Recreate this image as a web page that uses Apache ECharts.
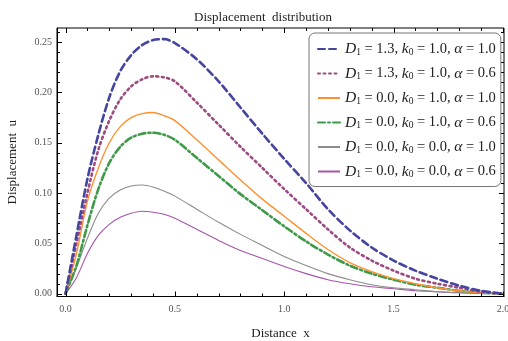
<!DOCTYPE html>
<html>
<head>
<meta charset="utf-8">
<script src="https://cdn.jsdelivr.net/npm/echarts@6/dist/echarts.min.js"></script>
<style>
html, body { margin: 0; padding: 0; background: #fff; }
#chart { width: 508px; height: 341px; }
</style>
</head>
<body>
<div id="chart"></div>
<script>
// data
var xs = [0, 0.05, 0.1, 0.15, 0.2, 0.25, 0.3, 0.35, 0.4, 0.45, 0.5, 0.6, 0.7, 0.8, 0.9, 1.0, 1.1, 1.2, 1.3, 1.4, 1.5, 1.6, 1.7, 1.8, 1.9, 2.0];
var u_D13_k10_a10 = [0, 0.058, 0.114, 0.158, 0.195, 0.221, 0.237, 0.247, 0.252, 0.253, 0.249, 0.233, 0.211, 0.185, 0.159, 0.134, 0.110, 0.084, 0.063, 0.046, 0.033, 0.023, 0.015, 0.008, 0.003, 0];
var u_D13_k10_a06 = [0, 0.050, 0.100, 0.143, 0.172, 0.193, 0.206, 0.213, 0.216, 0.215, 0.211, 0.190, 0.168, 0.146, 0.125, 0.104, 0.084, 0.064, 0.046, 0.033, 0.023, 0.015, 0.010, 0.006, 0.002, 0];
var u_D00_k10_a10 = [0, 0.040, 0.092, 0.125, 0.150, 0.166, 0.175, 0.179, 0.180, 0.177, 0.172, 0.153, 0.133, 0.113, 0.094, 0.077, 0.060, 0.044, 0.031, 0.022, 0.015, 0.010, 0.006, 0.003, 0.001, 0];
var u_D00_k10_a06 = [0, 0.028, 0.068, 0.104, 0.130, 0.146, 0.155, 0.159, 0.160, 0.158, 0.153, 0.135, 0.117, 0.099, 0.083, 0.067, 0.052, 0.039, 0.028, 0.020, 0.014, 0.009, 0.006, 0.003, 0.001, 0];
var u_D00_k00_a10 = [0, 0.026, 0.055, 0.080, 0.095, 0.103, 0.107, 0.108, 0.106, 0.102, 0.097, 0.084, 0.071, 0.059, 0.048, 0.037, 0.028, 0.020, 0.014, 0.009, 0.006, 0.004, 0.002, 0.001, 0.0005, 0];
var u_D00_k00_a06 = [0, 0.016, 0.040, 0.058, 0.069, 0.076, 0.080, 0.082, 0.081, 0.079, 0.075, 0.064, 0.053, 0.043, 0.035, 0.027, 0.020, 0.014, 0.010, 0.007, 0.005, 0.003, 0.002, 0.001, 0.0005, 0];

var D1 = ['1.3', '1.3', '0.0', '0.0', '0.0', '0.0'];
var k0 = ['1.0', '1.0', '1.0', '1.0', '0.0', '0.0'];
var alpha = ['1.0', '0.6', '1.0', '0.6', '1.0', '0.6'];

var xMajor = [0, 0.5, 1.0, 1.5, 2.0];
var xMinor = [0.1, 0.2, 0.3, 0.4, 0.6, 0.7, 0.8, 0.9, 1.1, 1.2, 1.3, 1.4, 1.6, 1.7, 1.8, 1.9];
var yMajor = [0, 0.05, 0.10, 0.15, 0.20, 0.25];
var yMinor = [0.01, 0.02, 0.03, 0.04, 0.06, 0.07, 0.08, 0.09, 0.11, 0.12, 0.13, 0.14, 0.16, 0.17, 0.18, 0.19, 0.21, 0.22, 0.23, 0.24, 0.26];

var curves = [u_D13_k10_a10, u_D13_k10_a06, u_D00_k10_a10, u_D00_k10_a06, u_D00_k00_a10, u_D00_k00_a06];
var colors = ['#45459f', '#9c4a80', '#ff9030', '#3e9a48', '#8c8c8c', '#a555aa'];
var lineTypes = [[7, 4], [2, 3.5], 'solid', [7, 3, 2, 3], 'solid', 'solid'];
var widths = [2.6, 2.6, 1.4, 2.6, 1.1, 1.1];

var xMin = -0.039, xMax = 2.005, yMin = -0.0027, yMax = 0.264;
var serif = 'Liberation Serif';
var majorLen = 5, minorLen = 3;

function pairs(ys) {
    var out = [];
    for (var i = 0; i < xs.length; i++) out.push([xs[i], ys[i]]);
    return out;
}
function names(i) {
    return 'D1 = ' + D1[i] + ', k0 = ' + k0[i] + ', α = ' + alpha[i];
}
function richName(i) {
    return '{it|D}{sub|1}{t| = ' + D1[i] + ', }{it|k}{sub|0}{t| = ' + k0[i] + ', }{it|α}{t| = ' + alpha[i] + '}';
}

var chart = echarts.init(document.getElementById('chart'));

var series = [];
for (var i = 0; i < curves.length; i++) {
    series.push({
        name: names(i),
        type: 'line',
        data: pairs(curves[i]),
        smooth: 0.3,
        showSymbol: false,
        symbol: 'none',
        silent: true,
        color: colors[i],
        lineStyle: { color: colors[i], width: widths[i], type: lineTypes[i], cap: lineTypes[i] == 'solid' ? 'butt' : 'round' },
        z: 10 - i
    });
}

// frame ticks (inside, on all four sides) placed through the axis scales
var xTickData = xMajor.map(function (v) { return [v, yMin, majorLen]; })
    .concat(xMinor.map(function (v) { return [v, yMin, minorLen]; }));
var yTickData = yMajor.map(function (v) { return [xMin, v, majorLen]; })
    .concat(yMinor.map(function (v) { return [xMin, v, minorLen]; }));

series.push({
    type: 'custom',
    silent: true,
    clip: false,
    z: 20,
    data: xTickData,
    encode: { x: 0, y: 1 },
    renderItem: function (params, api) {
        var cs = params.coordSys;
        var px = Math.round(api.coord([api.value(0), yMin])[0]) + 0.5;
        var len = api.value(2);
        var st = { stroke: '#000', lineWidth: 1 };
        return { type: 'group', children: [
            { type: 'line', shape: { x1: px, y1: cs.y + cs.height, x2: px, y2: cs.y + cs.height - len }, style: st },
            { type: 'line', shape: { x1: px, y1: cs.y, x2: px, y2: cs.y + len }, style: st }
        ] };
    }
});
series.push({
    type: 'custom',
    silent: true,
    clip: false,
    z: 20,
    data: yTickData,
    encode: { x: 0, y: 1 },
    renderItem: function (params, api) {
        var cs = params.coordSys;
        var py = Math.round(api.coord([xMin, api.value(1)])[1]) + 0.5;
        var len = api.value(2);
        var st = { stroke: '#000', lineWidth: 1 };
        return { type: 'group', children: [
            { type: 'line', shape: { x1: cs.x, y1: py, x2: cs.x + len, y2: py }, style: st },
            { type: 'line', shape: { x1: cs.x + cs.width, y1: py, x2: cs.x + cs.width - len, y2: py }, style: st }
        ] };
    }
});

option = {
    animation: false,
    backgroundColor: '#fff',
    title: {
        text: 'Displacement  distribution',
        left: 258,
        textAlign: 'center',
        top: 6,
        textStyle: { fontFamily: serif, fontSize: 13, fontWeight: 'normal', color: '#222' }
    },
    grid: { left: 57, right: 4, top: 28, bottom: 44.5, outerBoundsMode: 'none', show: true, borderColor: '#000', borderWidth: 1, backgroundColor: 'transparent' },
    xAxis: {
        type: 'value',
        min: xMin,
        max: xMax,
        name: 'Distance  x',
        nameLocation: 'middle',
        nameGap: 31,
        nameTextStyle: { fontFamily: serif, fontSize: 13, color: '#222' },
        splitLine: { show: false },
        axisLine: { show: true, onZero: false, lineStyle: { color: '#000', width: 1 } },
        axisTick: { show: false },
        axisLabel: {
            customValues: xMajor, fontFamily: serif, fontSize: 10, color: '#555', margin: 8,
            formatter: function (v) { return v.toFixed(1); }
        }
    },
    yAxis: {
        type: 'value',
        min: yMin,
        max: yMax,
        name: 'Displacement  u',
        nameLocation: 'middle',
        nameGap: 38,
        nameTextStyle: { fontFamily: serif, fontSize: 13, color: '#222' },
        splitLine: { show: false },
        axisLine: { show: true, onZero: false, lineStyle: { color: '#000', width: 1 } },
        axisTick: { show: false },
        axisLabel: {
            customValues: yMajor, fontFamily: serif, fontSize: 10, color: '#555', margin: 5,
            formatter: function (v) { return v.toFixed(2); }
        }
    },
    legend: {
        orient: 'vertical',
        left: 309,
        top: 33,
        padding: [8, 5, 7, 8],
        itemGap: 8.5,
        itemWidth: 22,
        itemHeight: 14,
        backgroundColor: '#fff',
        borderColor: '#777',
        borderWidth: 1,
        borderRadius: 6,
        z: 30,
        itemStyle: { opacity: 0 },
        data: curves.map(function (c, j) { return names(j); }),
        formatter: function (name) {
            for (var j = 0; j < curves.length; j++) {
                if (names(j) == name) return richName(j);
            }
            return name;
        },
        textStyle: {
            fontFamily: serif,
            fontSize: 14.5,
            color: '#222',
            rich: {
                t: { fontFamily: serif, fontSize: 14.5, color: '#222', lineHeight: 16 },
                it: { fontFamily: serif, fontSize: 15.5, fontStyle: 'italic', color: '#222', lineHeight: 16 },
                sub: { fontFamily: serif, fontSize: 9.5, color: '#222', lineHeight: 10, verticalAlign: 'bottom' }
            }
        }
    },
    series: series
};
chart.setOption(option);
</script>
</body>
</html>
